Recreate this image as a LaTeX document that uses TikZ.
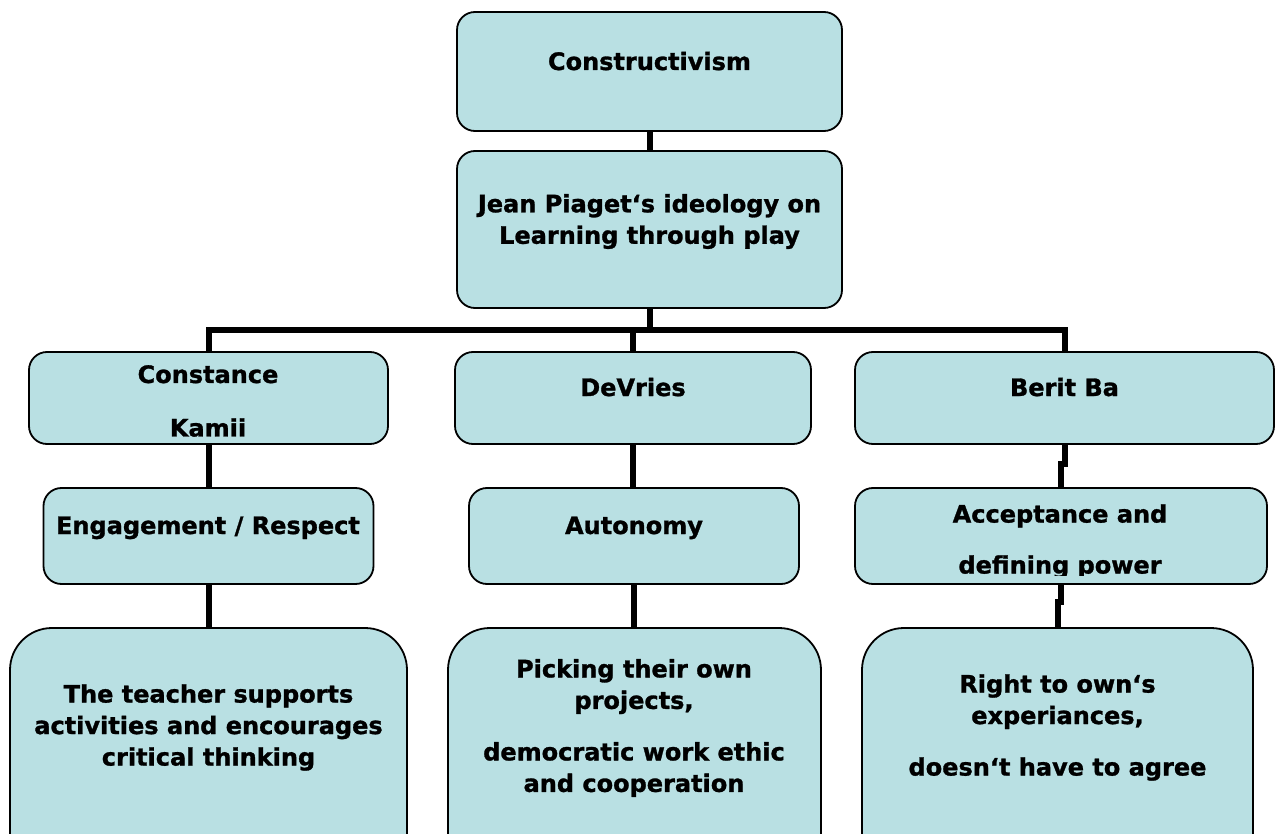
\documentclass[tikz,border=0pt]{standalone}
\usepackage{fontspec}
\setmainfont[BoldFeatures={FakeBold=1.2}]{DejaVu Sans}
\definecolor{boxfill}{RGB}{185,224,227}
\tikzset{
  box/.style={draw=black, line width=1.8pt, fill=boxfill, rounded corners=18pt, inner sep=0pt, outer sep=0pt},
  bigbox/.style={box, rounded corners=42pt},
  conn/.style={draw=black, line width=6pt},
  lbl/.style={font=\bfseries\fontsize{24}{31.5}\selectfont, align=center, inner sep=0pt, text=black}
}
\begin{document}
\begin{tikzpicture}[x=1pt,y=-1pt]
\useasboundingbox (0,0) rectangle (1275,834);
\fill[white] (0,0) rectangle (1275,834);

% boxes
\node[box, minimum width=385pt, minimum height=119pt] (constr) at (649.5,71.5) {};
\node[box, minimum width=385pt, minimum height=157pt] (piaget) at (649.5,229.5) {};

\node[box, minimum width=359pt, minimum height=92pt] (kamii) at (208.5,398) {};
\node[box, minimum width=356pt, minimum height=92pt] (devries) at (633,398) {};
\node[box, minimum width=419pt, minimum height=92pt] (berit) at (1064.5,398) {};

\node[box, minimum width=330pt, minimum height=96pt] (engage) at (208.5,536) {};
\node[box, minimum width=330pt, minimum height=96pt] (auto) at (634,536) {};
\node[box, minimum width=412pt, minimum height=96pt] (accept) at (1061,536) {};

\node[bigbox, minimum width=397pt, minimum height=252pt] (teacher) at (208.5,754) {};
\node[bigbox, minimum width=373pt, minimum height=252pt] (picking) at (634.5,754) {};
\node[bigbox, minimum width=391pt, minimum height=252pt] (right) at (1057.5,754) {};

% connectors
\draw[conn] (constr.south) -- (piaget.north);
\coordinate (bus) at (649.5,330.5);
\draw[conn] (piaget.south) -- (piaget.south |- bus);
\draw[conn] (kamii.north) -- (kamii.north |- bus) -| (berit.north);
\draw[conn] (devries.north) -- (devries.north |- bus);

\draw[conn] (kamii.south) -- (engage.north);
\draw[conn] (devries.south) -- (devries.south |- auto.north);
\draw[conn] (berit.south) -- ++(0,20) -| (accept.north);

\draw[conn] (engage.south) -- (engage.south |- teacher.north);
\draw[conn] (auto.south) -- (auto.south |- picking.north);
\draw[conn] (accept.south) -- ++(0,18) -| (right.north);

% texts
\node[lbl, anchor=base] (tconstr) at (649.5,70) {Constructivism};
\node[lbl] (tpiaget) at (649.5,221.5) {Jean Piaget‘s ideology on\\Learning through play};
\node[lbl] (tkamii) at (208,401) {Constance\\[22pt]Kamii};
\node[lbl, anchor=base] (tdevries) at (633,396) {DeVries};
\node[lbl, anchor=base] (tberit) at (1064.5,396) {Berit Ba};
\node[lbl, anchor=base] (tengage) at (208,534) {Engagement / Respect};
\node[lbl, anchor=base] (tauto) at (634,534) {Autonomy};
\begin{scope}
\clip (856,490) rectangle (1266,575);
\node[lbl] (taccept) at (1060,541.5) {Acceptance and\\[19.5pt]defining power};
\end{scope}
\node[lbl] (tteacher) at (208.5,727.5) {The teacher supports\\activities and encourages\\critical thinking};
\node[lbl] (tpicking) at (634,728) {Picking their own\\projects,\\[20pt]democratic work ethic\\and cooperation};
\node[lbl] (tright) at (1057.5,727.5) {Right to own‘s\\experiances,\\[20pt]doesn‘t have to agree};
\end{tikzpicture}
\end{document}
